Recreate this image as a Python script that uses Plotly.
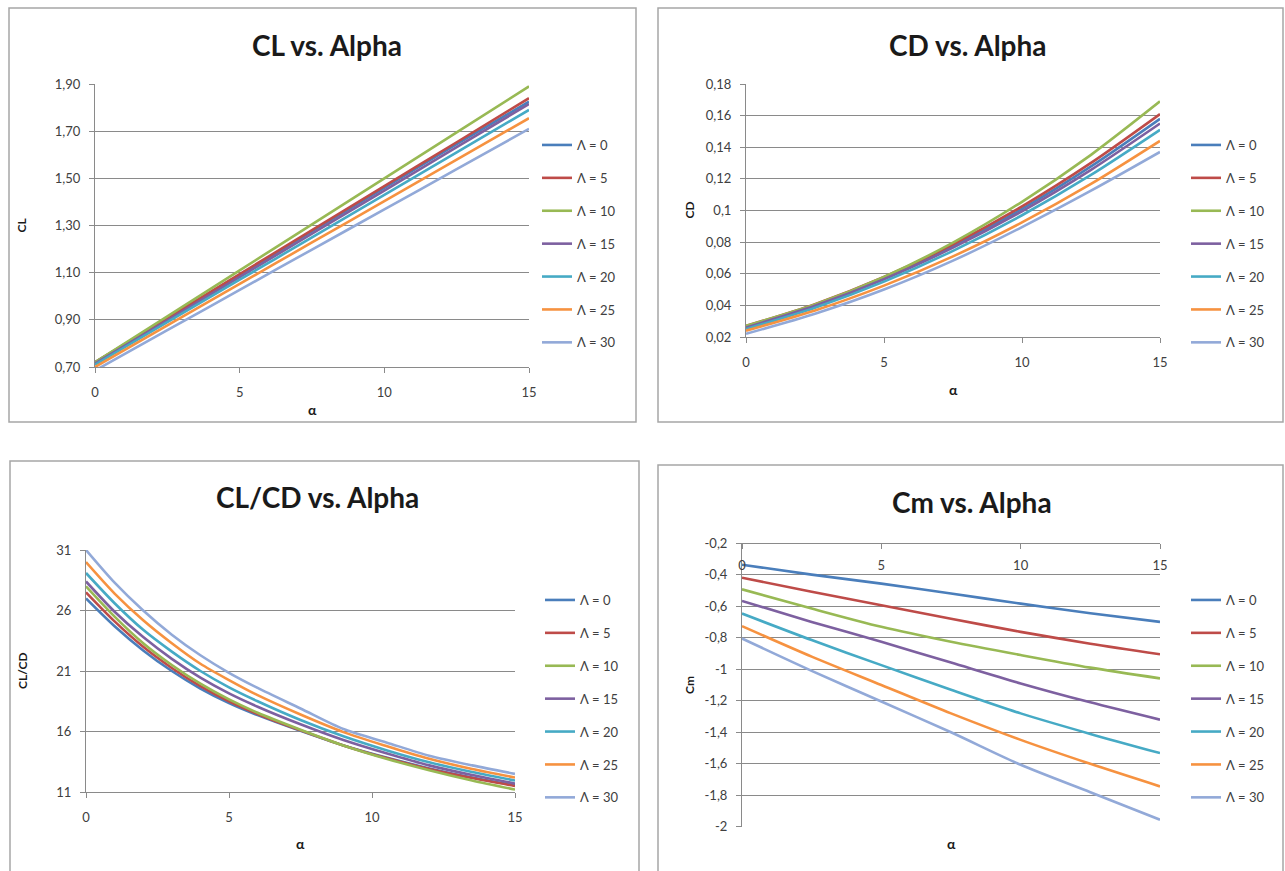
import plotly.graph_objects as go

W, H = 1285, 871

alpha = [0, 2.5, 5, 7.5, 10, 12.5, 15]
alpha_ld = [0, 1, 2, 3, 4, 5, 6, 7.5, 9, 10.5, 12, 13.5, 15]
sweep_labels = ["Λ = 0", "Λ = 5", "Λ = 10", "Λ = 15", "Λ = 20", "Λ = 25", "Λ = 30"]
colors = ["#4A7EBB", "#BE4B48", "#98B954", "#7D60A0", "#46AAC5", "#F69240", "#92A9D8"]

# CL vs alpha
cl_0 = [0.720, 0.905, 1.090, 1.275, 1.460, 1.645, 1.825]
cl_5 = [0.720, 0.907, 1.094, 1.280, 1.467, 1.653, 1.840]
cl_10 = [0.720, 0.915, 1.110, 1.305, 1.500, 1.695, 1.890]
cl_15 = [0.715, 0.898, 1.081, 1.265, 1.448, 1.632, 1.815]
cl_20 = [0.710, 0.890, 1.070, 1.250, 1.430, 1.610, 1.790]
cl_25 = [0.700, 0.876, 1.052, 1.228, 1.403, 1.579, 1.755]
cl_30 = [0.685, 0.856, 1.027, 1.198, 1.368, 1.539, 1.710]

# CD vs alpha
cd_0 = [0.026, 0.0399, 0.0570, 0.0774, 0.1010, 0.1279, 0.158]
cd_5 = [0.027, 0.0408, 0.0580, 0.0786, 0.1026, 0.1301, 0.161]
cd_10 = [0.027, 0.0405, 0.0580, 0.0797, 0.1055, 0.1352, 0.169]
cd_15 = [0.026, 0.0397, 0.0565, 0.0765, 0.0995, 0.1257, 0.155]
cd_20 = [0.025, 0.0385, 0.0550, 0.0745, 0.0970, 0.1225, 0.151]
cd_25 = [0.024, 0.0368, 0.0525, 0.0710, 0.0925, 0.1168, 0.144]
cd_30 = [0.022, 0.0347, 0.0500, 0.0683, 0.0895, 0.1125, 0.137]

# CL/CD vs alpha (sampled at alpha_ld)
ld_0 = [27.0, 24.7, 22.7, 21.0, 19.55, 18.35, 17.35, 16.05, 14.85, 13.85, 12.95, 12.2, 11.55]
ld_5 = [27.5, 25.1, 23.0, 21.25, 19.75, 18.5, 17.45, 16.1, 14.85, 13.8, 12.9, 12.15, 11.5]
ld_10 = [28.0, 25.5, 23.3, 21.5, 19.95, 18.65, 17.55, 16.15, 14.85, 13.75, 12.8, 11.95, 11.2]
ld_15 = [28.4, 25.9, 23.8, 22.0, 20.45, 19.15, 18.05, 16.6, 15.3, 14.2, 13.2, 12.4, 11.7]
ld_20 = [29.1, 26.6, 24.4, 22.6, 21.0, 19.65, 18.5, 16.95, 15.6, 14.45, 13.45, 12.65, 11.95]
ld_25 = [30.0, 27.4, 25.2, 23.3, 21.6, 20.25, 19.0, 17.4, 15.95, 14.8, 13.75, 12.9, 12.2]
ld_30 = [31.0, 28.3, 26.0, 24.0, 22.3, 20.85, 19.6, 17.9, 16.2, 15.1, 14.0, 13.2, 12.5]

# Cm vs alpha
cm_0 = [-0.337, -0.400, -0.457, -0.520, -0.584, -0.645, -0.700]
cm_5 = [-0.420, -0.508, -0.594, -0.680, -0.763, -0.838, -0.905]
cm_10 = [-0.493, -0.615, -0.731, -0.826, -0.910, -0.990, -1.058]
cm_15 = [-0.567, -0.700, -0.826, -0.958, -1.090, -1.210, -1.320]
cm_20 = [-0.647, -0.815, -0.974, -1.130, -1.280, -1.410, -1.532]
cm_25 = [-0.727, -0.920, -1.100, -1.280, -1.448, -1.600, -1.743]
cm_30 = [-0.805, -1.010, -1.205, -1.400, -1.606, -1.780, -1.954]

x_ticks = [0, 5, 10, 15]
cl_ticks = [0.70, 0.90, 1.10, 1.30, 1.50, 1.70, 1.90]
cl_ticktext = ["0,70", "0,90", "1,10", "1,30", "1,50", "1,70", "1,90"]
cd_ticks = [0.02, 0.04, 0.06, 0.08, 0.10, 0.12, 0.14, 0.16, 0.18]
cd_ticktext = ["0,02", "0,04", "0,06", "0,08", "0,1", "0,12", "0,14", "0,16", "0,18"]
ld_ticks = [11, 16, 21, 26, 31]
ld_ticktext = ["11", "16", "21", "26", "31"]
cm_ticks = [-2.0, -1.8, -1.6, -1.4, -1.2, -1.0, -0.8, -0.6, -0.4, -0.2]
cm_ticktext = ["-2", "-1,8", "-1,6", "-1,4", "-1,2", "-1", "-0,8", "-0,6", "-0,4", "-0,2"]

panels = [
    dict(title="CL vs. Alpha", ytitle="CL", xs=alpha, series=[cl_0, cl_5, cl_10, cl_15, cl_20, cl_25, cl_30],
         yr=[0.70, 1.90], yt=cl_ticks, ytt=cl_ticktext,
         px=(95, 529), py=(84, 367), frame=(9, 8, 636, 422), title_xy=(327, 45),
         ytitle_x=21, atitle_y=410, leg=(543, 145), top_axis=False),
    dict(title="CD vs. Alpha", ytitle="CD", xs=alpha, series=[cd_0, cd_5, cd_10, cd_15, cd_20, cd_25, cd_30],
         yr=[0.02, 0.18], yt=cd_ticks, ytt=cd_ticktext,
         px=(746, 1160), py=(84, 337), frame=(658, 8, 1283, 422), title_xy=(968, 45),
         ytitle_x=689, atitle_y=390, leg=(1192, 145), top_axis=False),
    dict(title="CL/CD vs. Alpha", ytitle="CL/CD", xs=alpha_ld, series=[ld_0, ld_5, ld_10, ld_15, ld_20, ld_25, ld_30],
         yr=[11, 31], yt=ld_ticks, ytt=ld_ticktext,
         px=(86, 515), py=(550, 792), frame=(10, 461, 639, 900), title_xy=(317, 497),
         ytitle_x=22, atitle_y=843, leg=(546, 600), top_axis=False),
    dict(title="Cm vs. Alpha", ytitle="Cm", xs=alpha, series=[cm_0, cm_5, cm_10, cm_15, cm_20, cm_25, cm_30],
         yr=[-2.0005, -0.1995], yt=cm_ticks, ytt=cm_ticktext,
         px=(742, 1160), py=(543, 827), frame=(658, 465, 1283, 900), title_xy=(972, 502),
         ytitle_x=689, atitle_y=843, leg=(1192, 600), top_axis=True),
]

FONT = "Lato"
TICKCOL = "#404040"
GRID = "#8A8A8A"


def fx(x):
    return x / W


def fy(y):
    return 1 - y / H


fig = go.Figure()
layout = dict(template="none", width=W, height=H, autosize=False,
              margin=dict(l=0, r=0, t=0, b=0, pad=0, autoexpand=False),
              paper_bgcolor="white", plot_bgcolor="white",
              font=dict(family=FONT, size=13, color=TICKCOL),
              shapes=[], annotations=[])

for i, p in enumerate(panels, start=1):
    sfx = "" if i == 1 else str(i)
    leg_name = "legend" if i == 1 else f"legend{i}"
    for j, (ys, name, col) in enumerate(zip(p["series"], sweep_labels, colors)):
        fig.add_trace(go.Scatter(
            x=p["xs"], y=ys, name=name, mode="lines",
            line=dict(color=col, width=2.6, shape="spline", smoothing=0.8),
            xaxis="x" + sfx, yaxis="y" + sfx, legend=leg_name,
            legendgroup=f"p{i}s{j}", showlegend=True, hoverinfo="skip"))

    x0, x1 = p["px"]
    y0, y1 = p["py"]
    xa = dict(domain=[fx(x0), fx(x1)], range=[0, 15], anchor="y" + sfx, automargin=False,
              tickvals=x_ticks, ticktext=[str(v) for v in x_ticks],
              showgrid=False, zeroline=False, showline=True, linecolor=GRID, linewidth=1,
              ticks="outside", ticklen=5, tickcolor=GRID,
              tickfont=dict(family=FONT, size=13, color=TICKCOL), ticklabelstandoff=8)
    if p["top_axis"]:
        xa.update(anchor="free", position=fy(y0), side="bottom", ticklabelstandoff=5)
    ya = dict(domain=[fy(y1), fy(y0)], range=p["yr"], anchor="x" + sfx, automargin=False,
              tickvals=p["yt"], ticktext=p["ytt"],
              showgrid=True, gridcolor=GRID, gridwidth=1, zeroline=False,
              showline=True, linecolor=GRID, linewidth=1,
              ticks="outside", ticklen=5, tickcolor=GRID,
              tickfont=dict(family=FONT, size=13, color=TICKCOL), ticklabelstandoff=6)
    layout["xaxis" + sfx] = xa
    layout["yaxis" + sfx] = ya

    fx0, fy0, fx1, fy1 = p["frame"]
    layout["shapes"].append(dict(type="rect", xref="paper", yref="paper",
                                 x0=fx(fx0), x1=fx(fx1), y0=fy(fy1), y1=fy(fy0),
                                 line=dict(color="#A6A6A6", width=1.5), layer="below"))
    cx = (x0 + x1) / 2
    tx, ty = p["title_xy"]
    layout["annotations"].append(dict(text="<b>" + p["title"] + "</b>", x=fx(tx), y=fy(ty),
                                      xref="paper", yref="paper", showarrow=False,
                                      xanchor="center", yanchor="middle",
                                      font=dict(family=FONT, size=28, color="#1A1A1A")))
    layout["annotations"].append(dict(text="<b>" + p["ytitle"] + "</b>", x=fx(p["ytitle_x"]),
                                      y=fy((y0 + y1) / 2), xref="paper", yref="paper",
                                      showarrow=False, textangle=-90,
                                      xanchor="center", yanchor="middle",
                                      font=dict(family=FONT, size=12, color="#1A1A1A")))
    layout["annotations"].append(dict(text="<b>α</b>", x=fx(cx), y=fy(p["atitle_y"]),
                                      xref="paper", yref="paper", showarrow=False,
                                      xanchor="center", yanchor="middle",
                                      font=dict(family=FONT, size=14, color="#1A1A1A")))
    lx, ly = p["leg"]
    layout[leg_name] = dict(x=fx(lx - 6), y=fy(ly - 15), xanchor="left", yanchor="top",
                            xref="paper", yref="paper", bgcolor="rgba(0,0,0,0)",
                            font=dict(family=FONT, size=13, color=TICKCOL),
                            tracegroupgap=13, itemwidth=30, traceorder="grouped")

fig.update_layout(**layout)
fig.write_html("out.html", config={"displayModeBar": False},
               post_script="document.body.style.margin='0px';document.body.style.overflow='hidden';")
